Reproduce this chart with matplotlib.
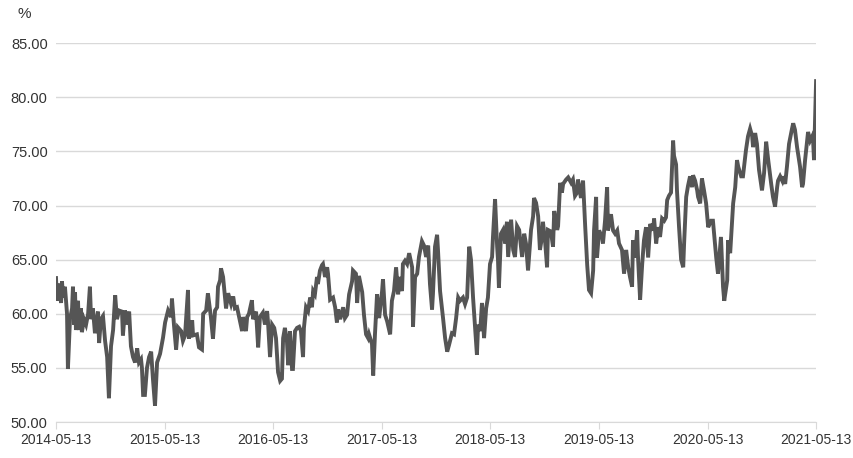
import pandas as pd
import matplotlib.pyplot as plt

plt.rcParams['font.family'] = ['Liberation Sans', 'DejaVu Sans']

# 数据：距 2014-05-13 的天数 与 对应数值（%）
start = pd.Timestamp('2014-05-13')
days = [0, 3, 10, 17, 20, 24, 30, 34, 37, 40, 47, 54, 57, 61, 64, 67, 74, 77, 84, 87,
        94, 101, 108, 114, 118, 124, 131, 141, 145, 151, 158, 165, 172, 178, 185, 192, 199, 205, 212, 222,
        225, 232, 239, 246, 252, 259, 266, 273, 279, 286, 289, 293, 299, 306, 313, 320, 326, 333, 340, 350,
        360, 367, 377, 387, 390, 397, 404, 410, 421, 427, 434, 444, 447, 458, 461, 474, 481, 491, 495, 505,
        511, 521, 528, 535, 542, 545, 552, 555, 562, 565, 572, 579, 589, 596, 602, 609, 616, 626, 629, 639,
        643, 649, 659, 663, 673, 680, 686, 696, 703, 710, 713, 720, 727, 734, 740, 747, 754, 760, 764, 770,
        777, 781, 787, 794, 797, 804, 811, 818, 824, 831, 834, 841, 848, 855, 861, 865, 871, 878, 881, 888,
        895, 898, 905, 912, 915, 922, 932, 939, 945, 949, 956, 966, 972, 979, 986, 996, 999, 1009, 1013, 1019,
        1030, 1036, 1043, 1050, 1053, 1063, 1067, 1073, 1080, 1087, 1097, 1100, 1107, 1114, 1124, 1130, 1137, 1144, 1151, 1154,
        1164, 1167, 1174, 1181, 1188, 1198, 1201, 1208, 1215, 1221, 1231, 1238, 1245, 1252, 1258, 1265, 1268, 1275, 1282, 1285,
        1292, 1302, 1309, 1316, 1322, 1332, 1339, 1346, 1353, 1359, 1369, 1376, 1383, 1390, 1396, 1403, 1410, 1416, 1420, 1427,
        1433, 1440, 1447, 1453, 1460, 1467, 1470, 1477, 1484, 1487, 1490, 1497, 1504, 1511, 1517, 1521, 1531, 1538, 1544, 1551,
        1558, 1568, 1575, 1581, 1588, 1598, 1605, 1608, 1615, 1622, 1628, 1635, 1638, 1645, 1652, 1655, 1665, 1672, 1676, 1686,
        1689, 1696, 1702, 1706, 1716, 1723, 1733, 1739, 1746, 1753, 1756, 1766, 1773, 1780, 1787, 1793, 1800, 1807, 1810, 1817,
        1820, 1827, 1837, 1840, 1847, 1854, 1857, 1867, 1874, 1881, 1888, 1894, 1904, 1911, 1918, 1925, 1931, 1938, 1941, 1948,
        1955, 1958, 1965, 1972, 1978, 1985, 1992, 1999, 2009, 2012, 2019, 2025, 2032, 2039, 2046, 2052, 2056, 2062, 2069, 2076,
        2079, 2086, 2089, 2096, 2103, 2110, 2113, 2120, 2126, 2133, 2140, 2143, 2150, 2157, 2160, 2167, 2173, 2180, 2187, 2194,
        2204, 2210, 2221, 2227, 2237, 2244, 2248, 2258, 2261, 2268, 2274, 2278, 2285, 2291, 2295, 2305, 2311, 2321, 2328, 2335,
        2342, 2345, 2352, 2358, 2365, 2375, 2382, 2389, 2396, 2406, 2412, 2419, 2426, 2429, 2436, 2443, 2446, 2453, 2459, 2466,
        2476, 2480, 2486, 2493, 2503, 2510, 2513, 2520, 2527, 2530, 2537, 2544, 2547, 2550, 2557]
values = [63.3, 61.2, 62.8, 61.0, 63.0, 61.5, 62.5, 61.0, 60.0, 54.9, 59.5, 60.5, 62.5, 59.0, 62.0, 58.5, 61.2, 58.5, 60.5, 58.3,
          59.5, 59.0, 60.0, 62.5, 59.5, 60.5, 58.2, 60.2, 57.3, 59.5, 59.8, 57.5, 56.0, 52.2, 57.0, 58.5, 61.7, 59.5, 60.3, 60.2,
          58.0, 60.3, 59.0, 60.2, 57.0, 56.0, 55.5, 56.8, 55.5, 55.8, 55.0, 52.5, 52.5, 55.0, 56.0, 56.5, 54.0, 51.5, 55.5, 56.3,
          57.8, 59.2, 60.3, 59.7, 61.4, 58.9, 56.7, 58.75, 58.4, 57.5, 58.0, 62.2, 57.7, 59.4, 58.0, 58.1, 56.9, 56.7, 60.0, 60.3,
          61.9, 59.7, 57.7, 60.3, 60.6, 62.5, 63.1, 64.2, 63.4, 62.5, 60.5, 61.9, 60.9, 61.6, 60.5, 60.6, 59.7, 58.4, 59.7, 58.4,
          59.7, 60.0, 61.25, 59.5, 60.2, 56.9, 59.7, 60.1, 59.0, 60.25, 59.3, 56.0, 59.0, 58.7, 57.75, 54.6, 53.8, 54.0, 57.75, 58.7,
          57.4, 55.25, 58.4, 54.9, 54.9, 58.4, 58.7, 58.8, 58.4, 56.0, 58.7, 60.6, 60.25, 61.5, 60.6, 62.1, 61.8, 63.4, 62.75, 64.0,
          64.5, 64.6, 63.4, 64.3, 63.7, 61.3, 61.5, 60.6, 59.2, 60.4, 59.5, 60.6, 59.6, 59.9, 61.8, 63.0, 64.0, 63.7, 61.0, 63.5,
          62.0, 59.9, 58.1, 57.75, 58.1, 57.2, 54.3, 58.1, 61.8, 59.6, 62.1, 63.2, 59.9, 59.3, 58.1, 61.2, 62.1, 64.3, 61.8, 63.4,
          62.1, 64.6, 64.9, 64.6, 65.6, 64.3, 58.8, 63.4, 63.7, 65.25, 66.7, 66.3, 65.25, 66.3, 62.75, 60.4, 61.8, 66.2, 67.3, 65.9,
          62.1, 59.6, 57.75, 56.5, 57.1, 58.2, 58.1, 59.6, 61.5, 61.2, 61.5, 60.9, 61.5, 66.2, 65.0, 61.5, 58.7, 56.2, 59.0, 58.4,
          61.0, 57.75, 60.5, 61.5, 64.6, 65.25, 67.1, 70.6, 66.2, 64.9, 62.4, 67.4, 67.75, 66.5, 68.5, 65.25, 68.7, 65.9, 65.25, 68.1,
          67.75, 65.25, 67.4, 66.5, 64.0, 67.75, 69.0, 70.7, 70.25, 69.0, 65.9, 67.1, 68.5, 66.8, 64.3, 67.75, 67.6, 66.2, 69.5, 67.75,
          68.1, 72.1, 71.2, 72.0, 72.4, 72.6, 72.1, 72.4, 70.9, 71.2, 72.4, 70.7, 72.3, 68.2, 64.5, 62.2, 61.9, 64.0, 67.7, 70.8,
          65.2, 67.7, 67.1, 66.5, 68.6, 71.7, 67.7, 69.2, 67.7, 67.4, 67.7, 66.5, 65.9, 63.7, 65.9, 64.3, 63.4, 62.5, 66.8, 65.2,
          67.7, 65.2, 61.3, 64.6, 66.8, 68.0, 65.2, 68.3, 67.7, 68.8, 66.5, 68.0, 67.1, 68.8, 68.6, 68.9, 70.5, 70.9, 71.2, 76.0,
          74.6, 73.8, 71.4, 68.0, 65.0, 64.3, 66.5, 70.8, 71.8, 72.7, 71.7, 72.8, 72.3, 71.4, 70.8, 70.2, 72.5, 71.4, 70.2, 68.0,
          68.6, 68.6, 65.2, 63.7, 67.1, 62.5, 61.2, 63.1, 66.8, 65.6, 68.3, 70.2, 71.7, 74.2, 73.6, 72.7, 72.7, 75.1, 76.4, 77.1,
          76.4, 75.4, 76.7, 75.7, 73.3, 71.4, 73.0, 75.9, 74.2, 72.0, 70.8, 69.9, 71.7, 72.3, 72.7, 72.3, 72.7, 72.0, 73.6, 75.7,
          77.1, 77.6, 77.0, 75.4, 73.6, 71.7, 72.0, 74.2, 76.0, 76.8, 76.0, 76.4, 76.0, 74.2, 81.5]

tick_labels = ['2014-05-13', '2015-05-13', '2016-05-13', '2017-05-13',
               '2018-05-13', '2019-05-13', '2020-05-13', '2021-05-13']
y_ticks = [50, 55, 60, 65, 70, 75, 80, 85]

dates = start + pd.to_timedelta(days, unit='D')
tick_dates = pd.to_datetime(tick_labels)

fig = plt.figure(figsize=(8.54, 4.58), dpi=100)
ax = fig.add_axes([0.0656, 0.0786, 0.89, 0.827])

ax.plot(dates, values, color='#555555', linewidth=2.8, solid_joinstyle='miter')

ax.set_xlim(tick_dates[0], tick_dates[-1])
ax.set_ylim(50, 85)
ax.set_yticks(y_ticks)
ax.set_yticklabels([f'{v:.2f}' for v in y_ticks])
ax.set_xticks(tick_dates)
ax.set_xticklabels(tick_labels)

ax.grid(axis='y', color='#d9d9d9', linewidth=1)
ax.set_axisbelow(True)
for side in ['top', 'right', 'left']:
    ax.spines[side].set_visible(False)
ax.spines['bottom'].set_color('#d9d9d9')
ax.tick_params(axis='y', length=0, pad=6, labelsize=10.5, labelcolor='#333333')
ax.tick_params(axis='x', length=5, color='#d9d9d9', pad=3, labelsize=10, labelcolor='#333333')

fig.text(0.02, 0.969, '%', fontsize=11, color='#333333', va='center')

fig.savefig('out.png', dpi=100)
